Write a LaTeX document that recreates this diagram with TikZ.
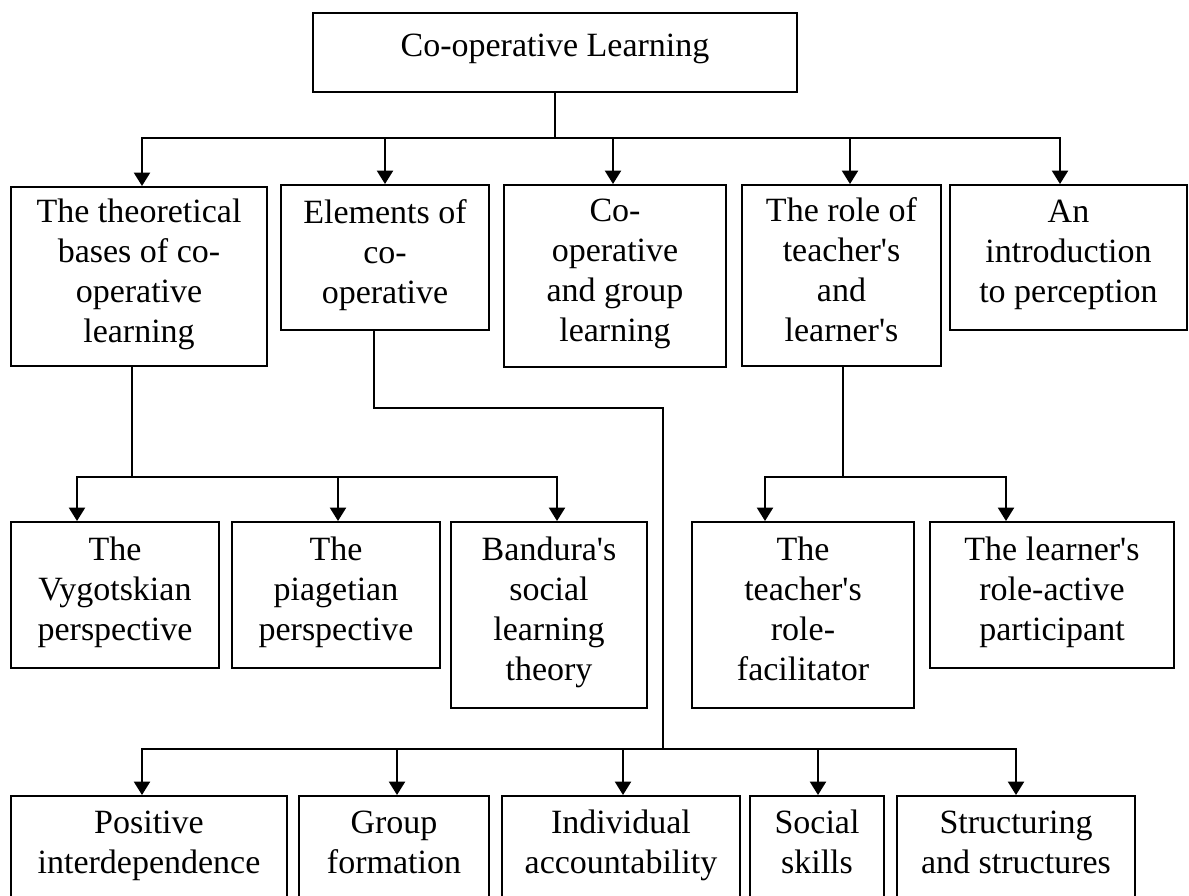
\documentclass[tikz,border=0pt]{standalone}
\usepackage{fontspec}
\setmainfont{Liberation Serif}[Ligatures=TeXOff]
\usetikzlibrary{arrows.meta,calc}
\begin{document}
\begin{tikzpicture}[x=0.75pt,y=-0.75pt,
  line width=1.5pt, line cap=rect,
  bx/.style 2 args={draw, line width=1.5pt, inner sep=0pt, align=center,
    minimum width={#1*0.75pt}, minimum height={#2*0.75pt},
    font=\fontsize{25.5}{30}\selectfont,
    execute at begin node=\strut, execute at end node=\strut},
  arr/.style={-{Triangle[width=12pt,length=10pt]}, line width=1.5pt, line cap=butt}]
\useasboundingbox (0,0) rectangle (1189,896);
\clip (0,0) rectangle (1189,896);
\fill[white] (0,0) rectangle (1189,896);

% root
\node[bx={484}{79}] (root) at (555,52.5) {\raisebox{3pt}{Co-operative Learning}};

% row 1
\node[bx={256}{179}] (A) at (139,276.5) {The theoretical\\bases of co-\\operative\\learning};
\node[bx={208}{145}] (B) at (385,257.5) {Elements of\\co-\\operative};
\node[bx={222}{182}] (C) at (615,276) {Co-\\operative\\and group\\learning};
\node[bx={199}{181}] (D) at (841.5,275.5) {The role of\\teacher's\\and\\learner's};
\node[bx={237}{145}] (E) at (1068.5,257.5) {An\\introduction\\to perception};

% row 2
\node[bx={208}{146}] (V) at (115,595) {The\\Vygotskian\\perspective};
\node[bx={208}{146}] (P) at (336,595) {The\\piagetian\\perspective};
\node[bx={196}{186}] (Ba) at (549,615) {Bandura's\\social\\learning\\theory};
\node[bx={222}{186}] (T) at (803,615) {The\\teacher's\\role-\\facilitator};
\node[bx={244}{146}] (L) at (1052,595) {The learner's\\role-active\\participant};

% row 3
\node[bx={276}{104}] (Pos) at (149,848) {Positive\\interdependence};
\node[bx={190}{104}] (G) at (394,848) {Group\\formation};
\node[bx={238}{104}] (I) at (621,848) {Individual\\accountability};
\node[bx={134}{104}] (S) at (817,848) {Social\\skills};
\node[bx={238}{104}] (St) at (1016,848) {Structuring\\and structures};

% top bus
\coordinate (t0) at (555,138);
\draw (root.south) -- (t0);
\draw (142,138) -- (1060,138);
\foreach \x/\n in {142/A,385/B,613/C,850/D,1060/E}
  \draw[arr] (\x,138) -- (\x,0 |- \n.north);

% theoretical bases -> perspectives
\draw (132,0 |- A.south) -- (132,477);
\draw (77,477) -- (557,477);
\foreach \x/\n in {77/V,338/P,557/Ba}
  \draw[arr] (\x,477) -- (\x,0 |- \n.north);

% elements -> bottom row
\draw (374,0 |- B.south) -- (374,408) -- (663,408) -- (663,749);
\draw (142,749) -- (1016,749);
\foreach \x/\n in {142/Pos,397/G,623/I,818/S,1016/St}
  \draw[arr] (\x,749) -- (\x,0 |- \n.north);

% role -> teacher / learner
\draw (843,0 |- D.south) -- (843,477);
\draw (765,477) -- (1006,477);
\foreach \x/\n in {765/T,1006/L}
  \draw[arr] (\x,477) -- (\x,0 |- \n.north);
\end{tikzpicture}
\end{document}
